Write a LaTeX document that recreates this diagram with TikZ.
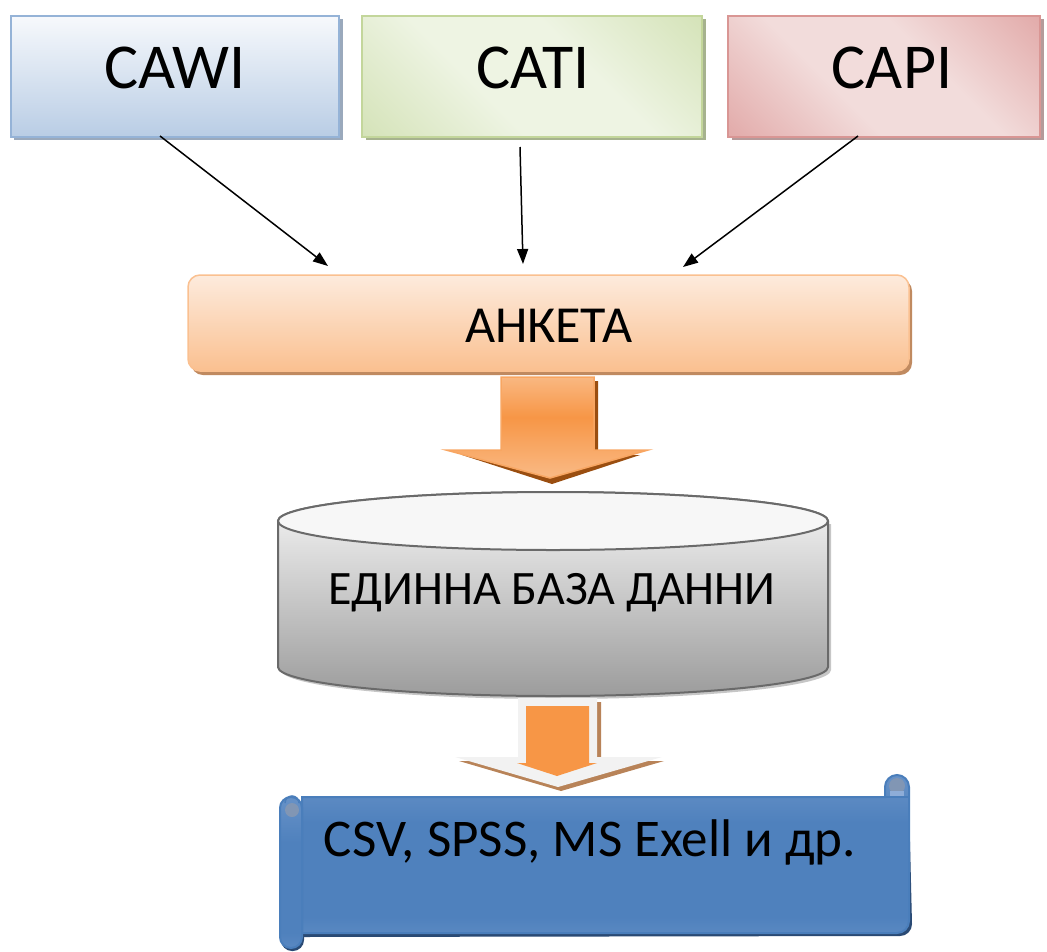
\documentclass[tikz,border=0pt]{standalone}
\usepackage{fontspec}
\setmainfont{Carlito}
\usetikzlibrary{arrows.meta,calc}
\definecolor{cawiB}{HTML}{95B3D7}
\definecolor{cawiT}{HTML}{F7F9FC}
\definecolor{cawiBot}{HTML}{B9CDE5}
\definecolor{cawiS}{HTML}{9AA9BC}
\definecolor{catiB}{HTML}{C3D69B}
\definecolor{catiL}{HTML}{EEF4E3}
\definecolor{catiD}{HTML}{C6D9A0}
\definecolor{catiS}{HTML}{A6B28E}
\definecolor{capiB}{HTML}{D99694}
\definecolor{capiL}{HTML}{F2DCDB}
\definecolor{capiD}{HTML}{D98E8D}
\definecolor{capiS}{HTML}{B59A9A}
\definecolor{ankB}{HTML}{FAC090}
\definecolor{ankT}{HTML}{FDEBDD}
\definecolor{ankBot}{HTML}{FAC090}
\definecolor{ankS}{HTML}{C08A60}
\definecolor{orng}{HTML}{F79646}
\definecolor{orngL}{HTML}{FAC090}
\definecolor{brn}{HTML}{9A4E10}
\definecolor{lgry}{HTML}{F2F2F2}
\definecolor{cylB}{HTML}{6A6A6A}
\definecolor{cylT}{HTML}{F7F7F7}
\definecolor{cylBot}{HTML}{9C9C9C}
\definecolor{scrl}{HTML}{4F81BD}
\definecolor{scrlL}{HTML}{8EADD8}
\definecolor{scrlB}{HTML}{4A7EBB}
\definecolor{scrlS}{HTML}{2A4A74}
\definecolor{curl}{HTML}{8196B4}
\pgfdeclarehorizontalshading{capish}{100bp}{color(0bp)=(capiD); color(40bp)=(capiL); color(60bp)=(capiL); color(100bp)=(capiD)}
\pgfdeclarehorizontalshading{catish}{100bp}{color(0bp)=(catiD); color(40bp)=(catiL); color(60bp)=(catiL); color(100bp)=(catiD)}
\pgfdeclareverticalshading{arrsh}{100bp}{color(0bp)=(orngL); color(20bp)=(orngL); color(55bp)=(orng); color(80bp)=(orngL); color(100bp)=(orngL)}
\pgfdeclareverticalshading{scrollsh}{100bp}{color(0bp)=(scrlL); color(30bp)=(scrl); color(60bp)=(scrl); color(100bp)=(scrlL)}
\tikzset{
  topbox/.style={rectangle, inner sep=0pt, line width=2pt},
  lbl/.style={inner sep=0pt, anchor=base, text=black},
  bigtxt/.style={font=\fontsize{64}{64}\selectfont},
  midtxt/.style={font=\fontsize{52}{52}\selectfont},
  arr/.style={line width=1.5pt, -{Triangle[length=15pt,width=11pt]}},
}
\begin{document}
\begin{tikzpicture}[x=1pt,y=-1pt]
\useasboundingbox (0,0) rectangle (1047,951);
% ---- top boxes ----
\fill[cawiS] (14,19) rectangle (343,140);
\node[topbox, draw=cawiB, top color=cawiT, bottom color=cawiBot,
      minimum width=328pt, minimum height=121pt] (cawi) at (175,76) {};
\node[lbl, bigtxt] (cawit) at (175,88) {CAWI};
\fill[catiS] (366,19) rectangle (706,140);
\node[topbox, draw=catiB, shading=catish, shading angle=45,
      minimum width=340pt, minimum height=121pt] (cati) at (532,76) {};
\node[lbl, bigtxt] (catit) at (533,88) {CATI};
\fill[capiS] (732,19) rectangle (1044,140);
\node[topbox, draw=capiB, shading=capish, shading angle=45,
      minimum width=312pt, minimum height=121pt] (capi) at (884,76) {};
\node[lbl, bigtxt] (capit) at (892,88) {CAPI};
% ---- anketa ----
\fill[ankS, rounded corners=12pt] (191,279) rectangle (912,375);
\node[rectangle, rounded corners=12pt, draw=ankB, line width=1.5pt,
      top color=ankT, bottom color=ankBot, minimum width=721pt,
      minimum height=96pt] (anketa) at (548.5,323) {};
\node[lbl, midtxt] (anketat) at (549,342) {АНКЕТА};
% ---- thin arrows ----
\coordinate (s1) at (160,136);
\coordinate (e1) at (328,266);
\coordinate (s2) at (520,147);
\coordinate (e2) at (523,264);
\coordinate (s3) at (858,136);
\coordinate (e3) at (683,267);
\draw[arr] (s1) -- (e1);
\draw[arr] (s2) -- (e2);
\draw[arr] (s3) -- (e3);
% ---- big orange arrow ----
\fill[brn] (505,381) -- (598,381) -- (598,455) -- (640,455) -- (552,484) -- (462,455) -- (505,455) -- cycle;
\draw[orng!85!white, line width=1.5pt, shading=arrsh]
  (501,377) -- (594,377) -- (594,450) -- (648,450) -- (550,478) -- (446,450) -- (501,450) -- cycle;
% ---- cylinder ----
\fill[gray!45] (281,524) -- (281,670) arc[start angle=180, end angle=0, x radius=275, y radius=29] -- (831,524) -- cycle;
\draw[cylB, line width=2pt, top color=cylT, bottom color=cylBot]
  (278,521) -- (278,667) arc[start angle=180, end angle=0, x radius=275, y radius=29]
  -- (828,521) arc[start angle=0, end angle=-180, x radius=275, y radius=29] -- cycle;
\draw[cylB, line width=2pt, fill=cylT] (553,521) ellipse [x radius=275, y radius=29];
\node[lbl, font=\fontsize{48}{48}\selectfont] (db) at (552,604) {ЕДИННА БАЗА ДАННИ};
% ---- small arrow ----
\fill[brn!70!white] (522,702) -- (601,702) -- (601,761) -- (664,761) -- (561,791) -- (459,761) -- (522,761) -- cycle;
\fill[lgry] (518,698) -- (597,698) -- (597,757) -- (662,757) -- (558,787) -- (455,757) -- (518,757) -- cycle;
\fill[orng] (526,706) -- (589,706) -- (589,763) -- (597,763) -- (557,776) -- (517,763) -- (526,763) -- cycle;
% ---- scroll ----
\fill[scrlS] (302,801) -- (909,801) -- (912,924) arc[start angle=0, end angle=90, radius=12] -- (302,937) -- cycle;
\fill[scrlS, rounded corners=11pt] (281,801) rectangle (304,951);
\draw[scrlB, line width=2pt, shading=scrollsh]
  (302,797) -- (885,797) -- (885,787) arc[start angle=180, end angle=360, radius=12]
  -- (909,921) arc[start angle=0, end angle=90, radius=12] -- (302,933) -- cycle;
\draw[scrlB, line width=2pt, shading=scrollsh, rounded corners=11pt] (280,797) rectangle (302,948);
\fill[curl] (292,810) circle (7);
\draw[scrlB, line width=1.5pt] (285,803) arc[start angle=180, end angle=360, radius=7];
\fill[curl] (897,786) circle (8);
\fill[scrlL] (890,791) rectangle (904,797);
\draw[scrlB, line width=1.5pt] (885,797) -- (909,797);
\node[lbl, font=\fontsize{53}{53}\selectfont] (out) at (590,856) {CSV, SPSS, MS Exell и др.};
\end{tikzpicture}
\end{document}
